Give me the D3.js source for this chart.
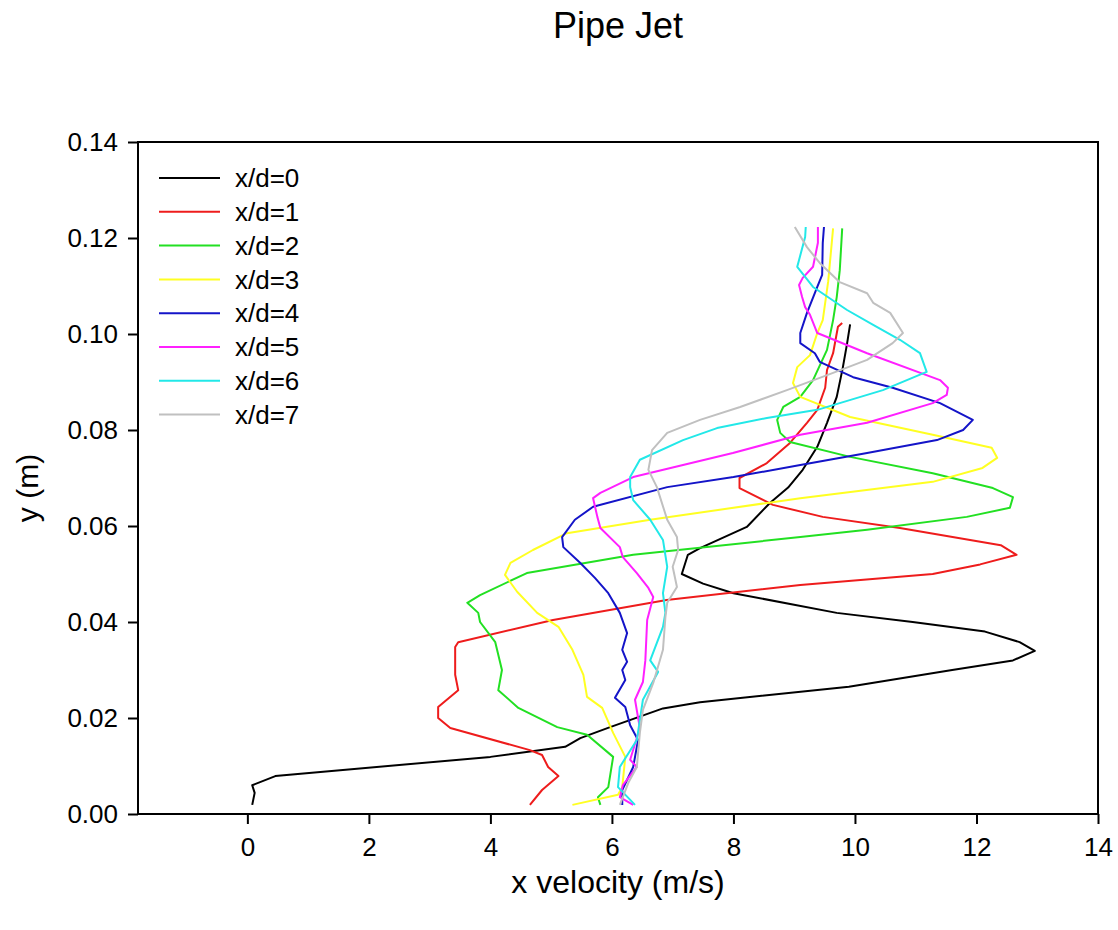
<!DOCTYPE html>
<html>
<head>
  <script src="https://d3js.org/d3.v7.min.js"></script>
  <style>
    body { margin: 0; background: #fff; }
    text { font-family: Arial, "Liberation Sans", Helvetica, sans-serif; fill: #000; }
  </style>
</head>
<body>
<svg id="chart" width="1118" height="930"></svg>
<script>
// series labels and colours
var labels = ["x/d=0", "x/d=1", "x/d=2", "x/d=3", "x/d=4", "x/d=5", "x/d=6", "x/d=7"];
var colors = ["#000000", "#ee1c1c", "#22e022", "#ffff22", "#1414c8", "#ff20ff", "#22e8e8", "#c0c0c0"];

// velocity (m/s), y (m) pairs
var xd0 = [[0.08,0.0019],[0.12,0.0044],[0.08,0.006],[0.46,0.0079],[4.0,0.0119],[5.23,0.014],[5.48,0.0158],[5.97,0.0181],[6.84,0.022],[7.45,0.0233],
  [9.9,0.0265],[11.6,0.030],[12.6,0.032],[12.96,0.034],[12.71,0.0358],[12.14,0.038],[10.95,0.040],[9.7,0.0419],[8.0,0.046],[7.5,0.048],[7.15,0.050],
  [7.25,0.054],[7.45,0.0554],[8.22,0.0598],[8.6,0.0648],[8.9,0.068],[9.14,0.0717],[9.38,0.0765],[9.54,0.0815],[9.7,0.0869],[9.8,0.093],[9.87,0.098],[9.92,0.102]];
var xd1 = [[4.65,0.0019],[4.85,0.005],[5.12,0.0079],[4.95,0.0098],[4.85,0.0123],[4.65,0.0133],[3.34,0.0179],[3.14,0.020],[3.14,0.0223],[3.47,0.0258],
  [3.42,0.029],[3.42,0.0348],[3.47,0.0358],[5.03,0.0404],[6.9,0.0446],[9.1,0.0477],[11.28,0.050],[12.06,0.052],[12.66,0.054],[12.4,0.056],[10.74,0.0596],
  [9.47,0.0619],[8.65,0.0644],[8.1,0.0679],[8.1,0.070],[8.55,0.0731],[8.93,0.0773],[9.21,0.0815],[9.38,0.0842],[9.51,0.0888],[9.54,0.0925],[9.64,0.096],[9.72,0.1015],[9.79,0.1023]];
var xd2 = [[5.81,0.0019],[5.77,0.0035],[5.94,0.0056],[6.02,0.0119],[5.59,0.0165],[5.1,0.0181],[4.46,0.0221],[4.13,0.0258],[4.19,0.030],[4.08,0.0358],
  [3.83,0.040],[3.8,0.0419],[3.62,0.044],[3.83,0.0456],[4.6,0.0502],[6.35,0.054],[9.1,0.0577],[10.2,0.0592],[11.84,0.0619],[12.55,0.0638],[12.6,0.066],
  [12.27,0.0679],[11.28,0.071],[9.92,0.0744],[8.93,0.0775],[8.77,0.0794],[8.72,0.0821],[8.82,0.0848],[9.1,0.0869],[9.31,0.0904],[9.54,0.0967],[9.64,0.1029],
  [9.7,0.1077],[9.75,0.1133],[9.79,0.122]];
var xd3 = [[5.35,0.0019],[6.1,0.004],[6.17,0.0056],[6.22,0.0119],[6.02,0.0169],[5.84,0.0221],[5.59,0.0244],[5.53,0.029],[5.35,0.0342],[5.12,0.039],
  [4.77,0.0419],[4.44,0.0463],[4.24,0.0498],[4.33,0.0523],[4.7,0.055],[5.26,0.0585],[6.63,0.0613],[9.1,0.0658],[11.28,0.0692],[12.1,0.0721],[12.34,0.0742],
  [12.25,0.0763],[11.28,0.079],[9.92,0.0827],[9.1,0.0869],[8.98,0.0898],[9.05,0.0931],[9.26,0.0956],[9.38,0.1002],[9.47,0.1029],[9.56,0.111],[9.64,0.122]];
var xd4 = [[6.17,0.0019],[6.17,0.005],[6.35,0.0098],[6.43,0.0154],[6.3,0.0185],[6.22,0.0223],[6.05,0.0242],[6.22,0.0279],[6.17,0.030],[6.25,0.0317],
  [6.17,0.0342],[6.25,0.0377],[6.13,0.0419],[5.94,0.046],[5.72,0.0492],[5.48,0.0523],[5.2,0.0556],[5.18,0.0577],[5.39,0.0613],[5.69,0.064],[6.91,0.0681],
  [8.0,0.0702],[9.1,0.0727],[10.2,0.0752],[11.35,0.0779],[11.78,0.080],[11.94,0.0821],[11.4,0.0856],[10.62,0.0888],[9.97,0.091],[9.42,0.0942],[9.34,0.096],
  [9.1,0.0981],[9.1,0.1002],[9.21,0.1044],[9.38,0.1098],[9.46,0.1123],[9.47,0.119],[9.49,0.1223]];
var xd5 = [[6.35,0.0019],[6.13,0.0035],[6.18,0.006],[6.41,0.0098],[6.3,0.0113],[6.46,0.0179],[6.38,0.0238],[6.51,0.0275],[6.55,0.032],[6.58,0.0404],
  [6.68,0.0452],[6.6,0.0471],[6.41,0.0502],[6.18,0.0535],[6.13,0.0556],[5.81,0.0596],[5.76,0.0619],[5.69,0.0658],[5.81,0.0669],[6.35,0.0702],[7.17,0.0727],
  [7.99,0.0752],[9.1,0.079],[10.2,0.0815],[11.28,0.0856],[11.51,0.0873],[11.53,0.0888],[11.4,0.0904],[10.2,0.096],[9.38,0.1002],[9.26,0.104],[9.18,0.1056],
  [9.13,0.1077],[9.08,0.1102],[9.14,0.1117],[9.31,0.114],[9.39,0.119],[9.39,0.1223]];
var xd6 = [[6.38,0.0019],[6.1,0.0056],[6.13,0.0098],[6.41,0.0154],[6.51,0.0238],[6.76,0.0296],[6.63,0.032],[6.84,0.039],[6.88,0.0419],[6.84,0.046],
  [6.91,0.0515],[6.84,0.0571],[6.63,0.0613],[6.35,0.0654],[6.3,0.0681],[6.3,0.0702],[6.46,0.0738],[7.17,0.0779],[7.73,0.0804],[8.55,0.0825],[9.38,0.0842],
  [10.46,0.0883],[11.18,0.0921],[11.07,0.096],[10.74,0.0988],[10.3,0.1019],[9.87,0.105],[9.31,0.1098],[9.05,0.114],[9.18,0.1202],[9.19,0.1223]];
var xd7 = [[6.13,0.0019],[6.27,0.0065],[6.41,0.0098],[6.46,0.0169],[6.51,0.0217],[6.68,0.0273],[6.84,0.0342],[6.88,0.041],[6.91,0.044],[7.07,0.0473],
  [7.0,0.0515],[7.09,0.055],[7.07,0.0577],[6.91,0.0613],[6.74,0.0681],[6.6,0.0717],[6.66,0.0758],[6.91,0.0794],[7.45,0.0821],[8.11,0.0848],[8.88,0.0883],
  [9.64,0.0919],[10.2,0.0946],[10.62,0.0981],[10.79,0.1002],[10.58,0.1044],[10.3,0.1065],[10.2,0.1085],[9.75,0.1108],[9.42,0.1148],[9.21,0.1181],[9.01,0.1223]];

var xTicks = [0, 2, 4, 6, 8, 10, 12, 14];
var yTicks = [0, 0.02, 0.04, 0.06, 0.08, 0.10, 0.12, 0.14];

var series = [xd0, xd1, xd2, xd3, xd4, xd5, xd6, xd7];

var svg = d3.select("#chart");
var plotLeft = 138, plotTop = 142, plotW = 960, plotH = 672;

var x = d3.scaleLinear().domain([-1.8, 14]).range([plotLeft, plotLeft + plotW]);
var y = d3.scaleLinear().domain([0, 0.14]).range([plotTop + plotH, plotTop]);

// title
svg.append("text").attr("x", plotLeft + plotW / 2).attr("y", 38)
  .attr("text-anchor", "middle").attr("font-size", 36).text("Pipe Jet");

// curves
var line = d3.line().x(d => x(d[0])).y(d => y(d[1]));
svg.append("g").selectAll("path")
  .data(series)
  .enter()
  .append("path")
  .attr("d", line)
  .attr("fill", "none")
  .attr("stroke", (d, i) => colors[i])
  .attr("stroke-width", 2)
  .attr("stroke-linejoin", "round");

// frame
svg.append("rect").attr("x", plotLeft).attr("y", plotTop).attr("width", plotW).attr("height", plotH)
  .attr("fill", "none").attr("stroke", "#000").attr("stroke-width", 2);

// axes
var xAxis = svg.append("g").attr("transform", "translate(0," + (plotTop + plotH) + ")")
  .call(d3.axisBottom(x).tickValues(xTicks).tickSize(10).tickPadding(14).tickFormat(d3.format("d")));
var yAxis = svg.append("g").attr("transform", "translate(" + plotLeft + ",0)")
  .call(d3.axisLeft(y).tickValues(yTicks).tickSize(10).tickPadding(10).tickFormat(d3.format(".2f")));
[xAxis, yAxis].forEach(function(g) {
  g.attr("font-size", null).attr("font-family", null);
  g.select(".domain").remove();
  g.selectAll(".tick line").attr("stroke", "#000").attr("stroke-width", 2);
  g.selectAll(".tick text").style("font-size", "26px");
});

// axis titles
svg.append("text").attr("x", plotLeft + plotW / 2).attr("y", 893)
  .attr("text-anchor", "middle").attr("font-size", 32).text("x velocity (m/s)");
svg.append("text").attr("transform", "translate(38,488) rotate(-90)")
  .attr("text-anchor", "middle").attr("font-size", 30).text("y (m)");

// legend
var legend = svg.append("g").selectAll("g")
  .data(labels)
  .enter()
  .append("g")
  .attr("transform", (d, i) => "translate(0," + (178 + i * 33.8) + ")");
legend.append("line").attr("x1", 159).attr("x2", 220)
  .attr("stroke", (d, i) => colors[i]).attr("stroke-width", 2);
legend.append("text").attr("x", 235).attr("dy", "0.35em").attr("font-size", 26).text(d => d);
</script>
</body>
</html>
